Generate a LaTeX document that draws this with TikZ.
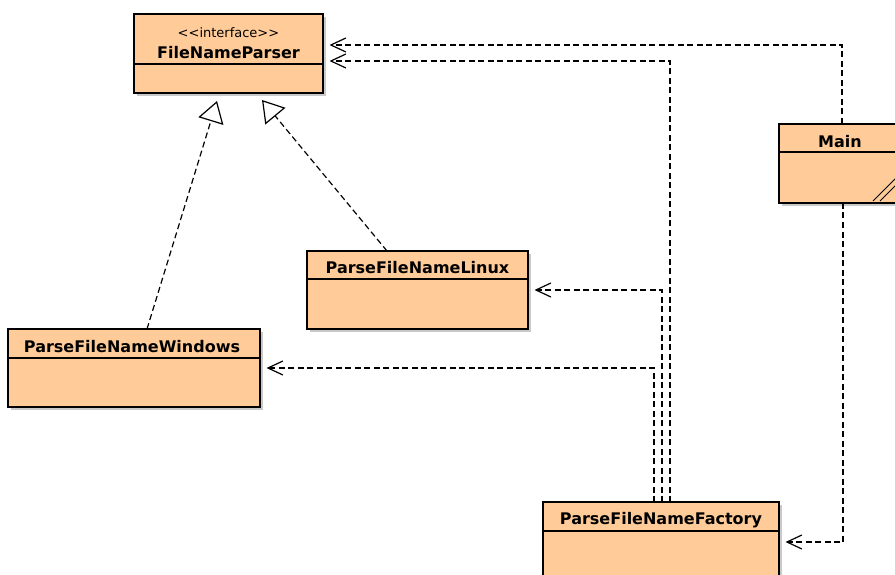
\documentclass[tikz,border=0pt]{standalone}
\usepackage{fontspec}
\setmainfont[Ligatures=NoCommon]{DejaVu Sans}
\usetikzlibrary{arrows.meta,shadows,calc}
\definecolor{peach}{HTML}{FFCC99}
\begin{document}
\begin{tikzpicture}[x=1pt,y=-1pt,
  cls/.style={draw=black, line width=1.3pt, fill=peach, inner sep=0pt, outer sep=0pt, anchor=north west,
    drop shadow={shadow xshift=3pt, shadow yshift=-3pt, opacity=0.35, fill=black!60}},
  divider/.style={draw=black, line width=1.1pt},
  title/.style={font=\fontsize{16}{18}\selectfont\bfseries, inner sep=0pt},
  stereo/.style={font=\fontsize{13}{15}\selectfont, inner sep=0pt},
  dep/.style={draw=black, line width=1.2pt, dash pattern=on 6pt off 3.5pt,
    -{Straight Barb[length=15pt,width=14pt]}, shorten >=6.5pt},
  realize/.style={draw=black, line width=1.2pt, dash pattern=on 6pt off 3.5pt,
    -{Triangle[open, length=21pt, width=26pt, fill=white]}}]
\clip (0,0) rectangle (895,575);
\fill[white] (0,0) rectangle (895,575);

% classes
\node[cls, minimum width=189pt, minimum height=79pt] (parser) at (134,14) {};
\node[cls, line width=2.6pt, minimum width=122pt, minimum height=79pt] (main) at (779,124) {};
\node[cls, minimum width=221pt, minimum height=78pt] (linux) at (307,251) {};
\node[cls, minimum width=252pt, minimum height=78pt] (windows) at (8,329) {};
\node[cls, minimum width=236pt, minimum height=100pt] (factory) at (543,502) {};

% dividers
\draw[divider] ([yshift=-50pt]parser.north west) -- ([yshift=-50pt]parser.north east);
\draw[divider] ([yshift=-28pt]main.north west) -- ([yshift=-28pt]main.north east);
\draw[divider] ([yshift=-28pt]linux.north west) -- ([yshift=-28pt]linux.north east);
\draw[divider] ([yshift=-29pt]windows.north west) -- ([yshift=-29pt]windows.north east);
\draw[divider] ([yshift=-29pt]factory.north west) -- ([yshift=-29pt]factory.north east);

% titles
\node[stereo] (parserst) at ([yshift=-18.5pt]parser.north) {<{}<interface>{}>};
\node[title] (parsert) at ([yshift=-39pt]parser.north) {FileNameParser};
\node[title] (maint) at ([yshift=-18pt]main.north) {Main};
\node[title] (linuxt) at ([yshift=-17pt]linux.north) {ParseFileNameLinux};
\node[title] (windowst) at ([xshift=-2pt,yshift=-18pt]windows.north) {ParseFileNameWindows};
\node[title] (factoryt) at ([yshift=-18pt]factory.north) {ParseFileNameFactory};

% main marker
\draw[line width=0.8pt] ([xshift=-28pt,yshift=2pt]main.south east) -- ([yshift=30pt]main.south east);
\draw[line width=0.8pt] ([xshift=-21pt,yshift=2pt]main.south east) -- ([yshift=23pt]main.south east);

% realizations
\draw[realize] ([xshift=139pt]windows.north west) -- ([xshift=83pt,yshift=-8pt]parser.south west);
\draw[realize] ([xshift=80pt]linux.north west) -- ([xshift=128pt,yshift=-7pt]parser.south west);

% dependencies
\draw[dep] ([xshift=63pt]main.north west) |- ([yshift=-31pt]parser.north east);
\draw[dep] ([xshift=127pt]factory.north west) |- ([yshift=-47pt]parser.north east);
\draw[dep] ([xshift=119pt]factory.north west) |- ([yshift=-39pt]linux.north east);
\draw[dep] ([xshift=111pt]factory.north west) |- ([yshift=-39pt]windows.north east);
\draw[dep] ([xshift=64pt]main.south west) |- ([yshift=-40pt]factory.north east);
\end{tikzpicture}
\end{document}
